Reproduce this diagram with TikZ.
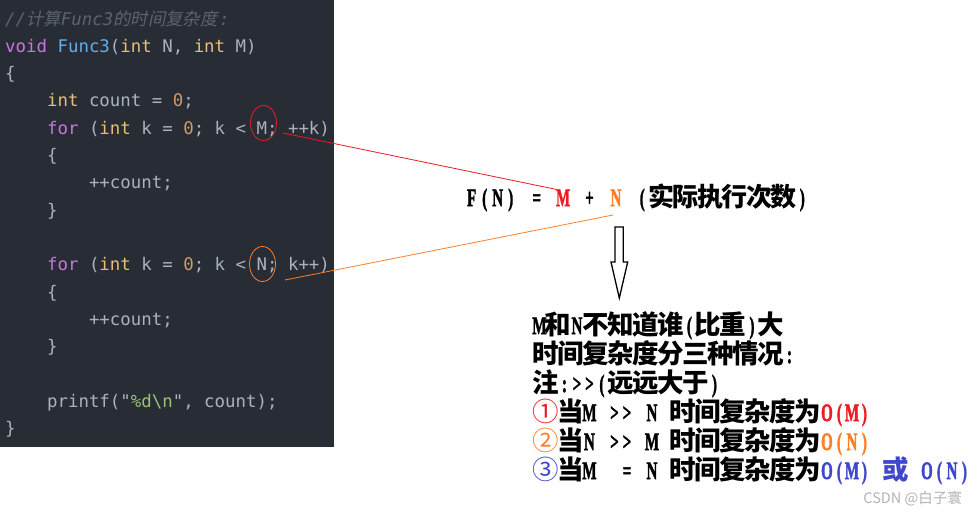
\documentclass[tikz,border=0pt]{standalone}
\usepackage{fontspec}
\usepackage{graphicx}
\usetikzlibrary{shapes.geometric}
\setmonofont{DejaVu Sans Mono}
\newfontfamily\cjk{Noto Sans CJK SC}
\newfontfamily\cjkit[FakeSlant=0.2]{Noto Sans CJK SC}
\newfontfamily\latn[UprightFont={* Bold}, FakeBold=2.2]{Liberation Serif}
\definecolor{codebg}{HTML}{282C34}
\definecolor{codefg}{HTML}{ABB2BF}
\definecolor{kw}{HTML}{C678DD}
\definecolor{ty}{HTML}{E5C07B}
\definecolor{fnc}{HTML}{61AFEF}
\definecolor{num}{HTML}{D19A66}
\definecolor{str}{HTML}{98C379}
\definecolor{cmt}{HTML}{5C6370}
\definecolor{pred}{HTML}{ED1C24}
\definecolor{porange}{HTML}{FF7F27}
\definecolor{pblue}{HTML}{3F48CC}
\definecolor{wm}{HTML}{B4B4B4}
\newlength\hw \newlength\fw
\def\lsz{25}
\def\csz{26}
\ExplSyntaxOn
\NewDocumentCommand\HH{m}{\tl_map_inline:nn{#1}{\makebox[\hw][c]{\scalebox{0.6}[1]{\latn\fontsize{\lsz}{\lsz}\selectfont ##1}}}}
\NewDocumentCommand\FF{m}{\tl_map_inline:nn{#1}{\makebox[\fw][c]{\cjk\bfseries\fontsize{\csz}{\csz}\selectfont ##1}}}
\ExplSyntaxOff
\newcommand\SP{\hspace*{\hw}}
\newcommand\CD[1]{\makebox[\fw][c]{\cjk\fontsize{\csz}{\csz}\selectfont #1}}
\tikzset{
  code/.style={anchor=base west, inner sep=0pt, text=codefg, font=\ttfamily\fontsize{17.4}{20}\selectfont},
  txt/.style={anchor=base west, inner sep=0pt, text=black},
  ring/.style={draw, ellipse, inner sep=0pt, minimum width=26pt, minimum height=35pt, line width=0.8pt},
}
\begin{document}
\begin{tikzpicture}[x=1pt, y=-1pt]
\useasboundingbox (0,0) rectangle (977,514);
\fill[white] (0,0) rectangle (977,514);
\fill[codebg] (0,0) rectangle (334,447);
% code
\node[code] (c1) at (5,25) {\textcolor{cmt}{\itshape //{\cjkit 计算}Func3{\cjkit 的时间复杂度}\hspace{1.5pt}:}};
\node[code] (c2) at (5,52.3) {\textcolor{kw}{void} \textcolor{fnc}{Func3}(\textcolor{ty}{int} N, \textcolor{ty}{int} M)};
\node[code] (c3) at (5,79.6) {\{};
\node[code] (c4) at (46.9,106.9) {\textcolor{ty}{int} count = \textcolor{num}{0};};
\node[code] (c5) at (46.9,134.2) {\textcolor{kw}{for} (\textcolor{ty}{int} k = \textcolor{num}{0}; k < M; ++k)};
\node[code] (c6) at (46.9,161.5) {\{};
\node[code] (c7) at (88.8,188.8) {++count;};
\node[code] (c8) at (46.9,216.1) {\}};
\node[code] (c10) at (46.9,270.7) {\textcolor{kw}{for} (\textcolor{ty}{int} k = \textcolor{num}{0}; k < N; k++)};
\node[code] (c11) at (46.9,298) {\{};
\node[code] (c12) at (88.8,325.3) {++count;};
\node[code] (c13) at (46.9,352.6) {\}};
\node[code] (c15) at (46.9,407.2) {printf("\textcolor{str}{\%d\textbackslash n}", count);};
\node[code] (c16) at (5,434.5) {\}};
% rings
\node[ring, draw=pred] (mc) at (263.5,123) {};
\node[ring, draw=porange] (nc) at (262.5,264) {};
% formula
\setlength\hw{13pt}\setlength\fw{24.5pt}\def\csz{26}
\node[txt] (f1) at (465,206) {\HH{F(N)}\SP\HH{=}\SP};
\node[txt, anchor=base west] (fm) at (f1.base east) {\textcolor{pred}{\HH{M}}};
\node[txt, anchor=base west] (f2) at (fm.base east) {\SP\HH{+}\SP};
\node[txt, anchor=base west] (fn) at (f2.base east) {\textcolor{porange}{\HH{N}}};
\node[txt, anchor=base west] (f3) at (fn.base east) {\SP\HH{(}\FF{实际执行次数}\HH{)}};
% connectors
\coordinate (m0) at (283,133);
\coordinate (n0) at (285,280);
\coordinate (n1) at (613,215);
\draw[pred, line width=0.8pt] (m0) -- (fm.north west);
\draw[porange, line width=0.8pt] (n0) -- (n1);
% down arrow
\draw[black, line width=1.3pt, line join=miter] (615,227) -- (623.3,227) -- (623.3,262) -- (627.7,262) -- (619.3,298) -- (611,262) -- (615,262) -- cycle;
% explanation
\setlength\hw{12.5pt}\setlength\fw{25pt}\def\csz{26.5}
\node[txt] (l1) at (533,334) {\HH{M}\FF{和}\HH{N}\FF{不知道谁}\HH{(}\FF{比重}\HH{)}\FF{大}};
\node[txt] (l2) at (533,363) {\FF{时间复杂度分三种情况}\HH{:}};
\node[txt] (l3) at (533,392) {\FF{注}\HH{:>>(}\FF{远远大于}\HH{)}};
\node[txt] (l4) at (533,421) {\textcolor{pred}{\CD{①}}\FF{当}\HH{M}\SP\HH{>>}\SP\HH{N}\SP\FF{时间复杂度为}\textcolor{pred}{\HH{O(M)}}};
\node[txt] (l5) at (533,450) {\textcolor{porange}{\CD{②}}\FF{当}\HH{N}\SP\HH{>>}\SP\HH{M}\SP\FF{时间复杂度为}\textcolor{porange}{\HH{O(N)}}};
\node[txt] (l6) at (533,479) {\textcolor{pblue}{\CD{③}}\FF{当}\HH{M}\SP\SP\HH{=}\SP\HH{N}\SP\FF{时间复杂度为}\textcolor{pblue}{\HH{O(M)}\SP\FF{或}\SP\HH{O(N)}}};
% watermark
\node[anchor=base east, inner sep=0pt, text=wm, font=\cjk\fontsize{14.5}{16}\selectfont] (wmk) at (962,503) {CSDN @白子寰};
\end{tikzpicture}
\end{document}
